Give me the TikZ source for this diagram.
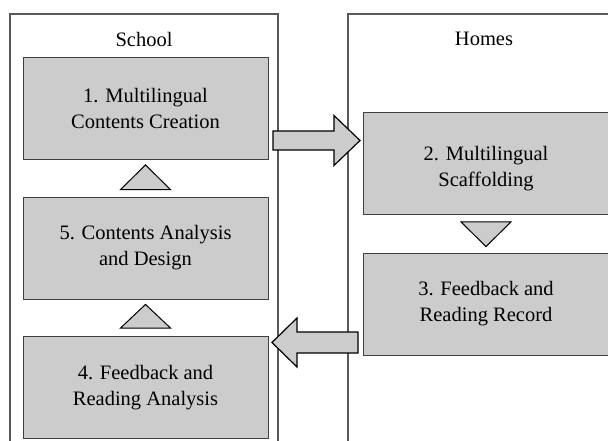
\documentclass[tikz,border=0pt]{standalone}
\usepackage{fontspec}
\setmainfont{Liberation Serif}
\usetikzlibrary{calc}

\begin{document}
\begin{tikzpicture}[x=1pt,y=-1pt,
  box/.style={draw=black!75,fill=black!20,line width=0.9pt,minimum width=245pt,minimum height=102pt,align=center,inner sep=0pt,font=\fontsize{20.5}{26}\selectfont},
  head/.style={font=\fontsize{20.5}{26}\selectfont},
  frame/.style={draw=black!65,line width=1.5pt},
  tri/.style={draw=black,fill=black!20,line width=1pt,line join=miter},
  barrow/.style={draw=black,fill=black!20,line width=1.2pt,line join=miter}]
\useasboundingbox[clip] (0,0) rectangle (608,441);
\draw[frame] (10,445) -- (10,14) -- (278,14) -- (278,445);
\draw[frame] (348,445) -- (348,14) -- (615,14);
\node[head] at (144,39) (school) {School};
\node[head] at (484,39) (homes) {Homes};
\node[box] at (145.5,108.5) (1) {1. Multilingual\\Contents Creation};
\node[box] at (486,163.5) (2) {\rule{0pt}{25pt}2. Multilingual\\Scaffolding};
\node[box] at (486,304) (3) {3. Feedback and\\Reading Record};
\node[box] at (145.5,387.5) (4) {4. Feedback and\\Reading Analysis};
\node[box] at (145.5,248) (5) {5. Contents Analysis\\and Design};
\coordinate (t12) at (273,140.5);
\coordinate (h12) at (360,140.5);
\coordinate (t34) at (358,342.5);
\coordinate (h34) at (272,342.5);
\draw[barrow] ($(t12)+(0,-9.5)$) -- ($(h12)+(-26,-9.5)$) -- ($(h12)+(-26,-25)$) -- (h12)
  -- ($(h12)+(-26,25)$) -- ($(h12)+(-26,9.5)$) -- ($(t12)+(0,9.5)$) -- cycle;
\draw[barrow] ($(t34)+(0,-10.5)$) -- ($(h34)+(25,-10.5)$) -- ($(h34)+(25,-24.5)$) -- (h34)
  -- ($(h34)+(25,24.5)$) -- ($(h34)+(25,10.5)$) -- ($(t34)+(0,10.5)$) -- cycle;
\draw[tri] ($(5.north)+(-25,-7)$) -- ($(1.south)+(0,5)$) -- ($(5.north)+(25,-7)$) -- cycle;
\draw[tri] ($(4.north)+(-25,-8)$) -- ($(5.south)+(0,5)$) -- ($(4.north)+(25,-8)$) -- cycle;
\draw[tri] ($(2.south)+(-25,7)$) -- ($(3.north)+(0,-6)$) -- ($(2.south)+(25,7)$) -- cycle;
\end{tikzpicture}
\end{document}
